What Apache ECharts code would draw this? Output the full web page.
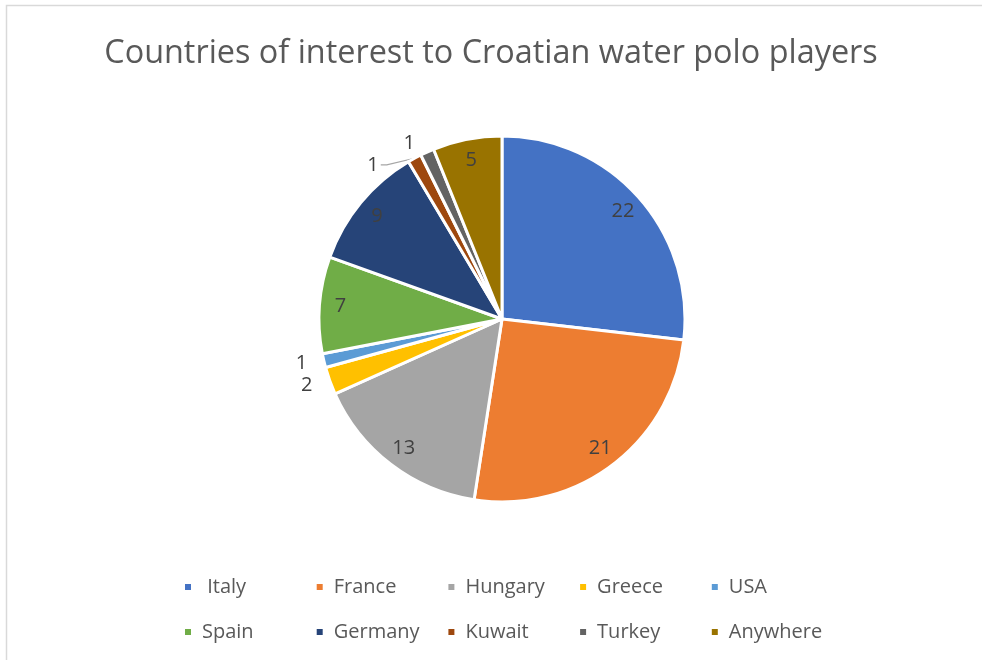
<!DOCTYPE html>
<html>
<head>
<meta charset="utf-8">
<script src="https://cdn.jsdelivr.net/npm/echarts@6/dist/echarts.min.js"></script>
<style>
html,body{margin:0;padding:0;background:#fff;}
#chart{width:982px;height:660px;}
</style>
</head>
<body>
<div id="chart"></div>
<script>
const titleText = 'Countries of interest to Croatian water polo players';
const categories = [' Italy', 'France', 'Hungary', 'Greece', 'USA', 'Spain', 'Germany', 'Kuwait', 'Turkey', 'Anywhere'];
const values = [22, 21, 13, 2, 1, 7, 9, 1, 1, 5];
const colors = ['#4472C4', '#ED7D31', '#A5A5A5', '#FFC000', '#5B9BD5', '#70AD47', '#264478', '#9E480E', '#636363', '#997300'];
const outsideLabelMax = 2; // values this small get their label outside the slice

const FONT = '"Open Sans", "Noto Sans", sans-serif';
const center = [502, 319];
const R = 183;

const sliceData = categories.map((c, i) => ({
  name: c, value: values[i], itemStyle: { color: colors[i] }
}));

const labelData = categories.map((c, i) => {
  const outside = values[i] <= outsideLabelMax;
  return {
    name: c,
    value: values[i],
    label: { position: outside ? 'outside' : 'inside' },
    labelLine: { show: c === 'Kuwait' }
  };
});

// legend laid out as a 5-column grid, one legend component per entry
const legends = categories.map((c, i) => ({
  data: [c],
  left: 178 + (i % 5) * 131.7,
  top: 572 + Math.floor(i / 5) * 45,
  itemWidth: 8,
  itemHeight: 8,
  icon: 'rect',
  textStyle: { fontFamily: FONT, fontSize: 20, color: '#595959', padding: [0, 0, 0, 5] },
  selectedMode: false
}));

const chart = echarts.init(document.getElementById('chart'), null, { renderer: 'canvas' });
chart.setOption({
  animation: false,
  color: colors,
  title: {
    text: titleText,
    left: 'center',
    top: 33,
    textStyle: { fontFamily: FONT, fontSize: 32.4, fontWeight: 'normal', color: '#595959' }
  },
  graphic: [{
    type: 'rect',
    shape: { x: 6.5, y: 5.5, width: 1000, height: 700 },
    style: { fill: 'none', stroke: '#d9d9d9', lineWidth: 1.5 },
    silent: true
  }],
  legend: legends,
  series: [
    {
      type: 'pie',
      center: center,
      radius: [0, R],
      startAngle: 90,
      clockwise: true,
      data: sliceData,
      itemStyle: { borderColor: '#ffffff', borderWidth: 3 },
      label: { show: false },
      labelLine: { show: false },
      silent: true
    },
    {
      type: 'pie',
      center: center,
      radius: [R - 48, R],
      startAngle: 90,
      clockwise: true,
      data: labelData,
      itemStyle: { color: 'rgba(0,0,0,0)', borderWidth: 0 },
      emphasis: { disabled: true },
      label: {
        show: true,
        formatter: '{c}',
        fontFamily: FONT,
        fontSize: 20,
        color: '#404040',
        distanceToLabelLine: 2
      },
      labelLine: {
        length: 10,
        length2: 6,
        lineStyle: { color: '#a6a6a6', width: 1.2 }
      },
      silent: true
    }
  ]
});
</script>
</body>
</html>
